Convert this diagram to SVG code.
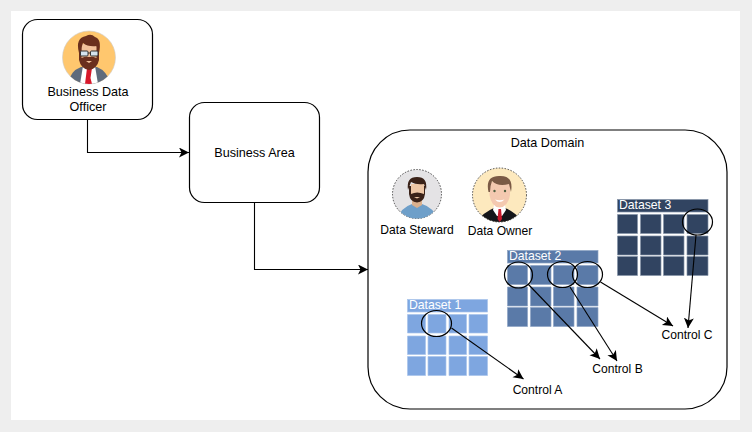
<svg xmlns="http://www.w3.org/2000/svg" width="752" height="432" viewBox="0 0 752 432">
<style>
text{font-family:"Liberation Sans",Arial,sans-serif;font-size:12.6px;fill:#000;text-anchor:middle}
text.s{font-size:12.1px}
.box{fill:#fff;stroke:#000;stroke-width:1.2}
.line{fill:none;stroke:#000;stroke-width:1.1;marker-end:url(#arrow)}
.sel{fill:none;stroke:#000;stroke-width:1.2}
.d1{fill:#7EA6E0;stroke:#A9C4EB;stroke-width:.7}
.d2{fill:#5A7AA8;stroke:#8EA4C4;stroke-width:.7}
.d3{fill:#314461;stroke:#8593A8;stroke-width:.7}
text.ht{fill:#fff;text-anchor:start;font-size:12.2px}
</style>
<defs>
<marker id="arrow" markerWidth="12" markerHeight="12" refX="10" refY="5" orient="auto" markerUnits="userSpaceOnUse"><path d="M0 0L10 5L0 10L2.500 5Z" fill="#000"/></marker>
<clipPath id="c1"><circle cx="89" cy="57.500" r="26.500"/></clipPath>
<clipPath id="c2"><circle cx="417" cy="194" r="24.500"/></clipPath>
<clipPath id="c3"><circle cx="499.500" cy="195" r="27"/></clipPath>
</defs>
<rect width="752" height="432" fill="#eeeeee"/>
<rect x="11" y="11" width="729" height="409" fill="#fff"/>
<g id="data-domain"><rect class="box" x="368" y="130" width="359" height="279" rx="42"/><text x="547.500" y="147">Data Domain</text></g>
<g id="business-data-officer">
<rect class="box" x="22.500" y="19.500" width="130" height="100" rx="15"/>
<circle cx="89" cy="57.500" r="26.500" fill="#FFC76E" stroke="#ccc" stroke-width=".6"/>
<g clip-path="url(#c1)">
<path d="M68 84Q70 71 81 67L97 67Q107 71 111 84Z" fill="#5F6B7C"/>
<path d="M80 84L83 66H95L98 84Z" fill="#fff"/>
<path d="M87 68H92L90.500 78L92 84H85Z" fill="#D7182A"/>
<path d="M79 46H99V60Q97 69 89 70Q81 69 79 60Z" fill="#6A2F1D"/>
<path d="M81.500 44H96.500V58Q92 56 89 57Q86 56 81.500 58Z" fill="#F3C29B"/>
<path d="M86 61H92L89 63Z" fill="#F3C29B"/>
<path d="M79 53Q75 38 86 36Q91 33 95 37Q102 39 99 53L96.500 46Q88 47 83 43Q81 47 81 53Z" fill="#6A2F1D"/>
<rect x="80.500" y="51" width="7.500" height="5" rx="1" fill="#D5E4EE" stroke="#333" stroke-width="1"/>
<rect x="90.500" y="51" width="7.500" height="5" rx="1" fill="#D5E4EE" stroke="#333" stroke-width="1"/>
<path d="M88 53H90.500" stroke="#333"/>
</g>
<text x="88" y="96">Business Data</text><text x="88" y="111">Officer</text>
</g>
<g id="business-area"><rect class="box" x="189.500" y="102.500" width="130" height="100" rx="15"/><text x="254.500" y="157">Business Area</text></g>
<g id="data-steward">
<circle cx="417" cy="194" r="24.500" fill="#E4E3E5" stroke="#222" stroke-width=".8" stroke-dasharray="1.500 1.500"/>
<g clip-path="url(#c2)">
<path d="M398 219Q400 208 412 204L417 206L422 204Q435 208 436 219Z" fill="#6E9FC9"/>
<path d="M412 196H422V205L417 208L412 205Z" fill="#D9B08E"/>
<path d="M409 186H425V194Q424 202 417 202.500Q410 202 409 194Z" fill="#3A2218"/>
<path d="M411 184H424V194Q417 191 411 194Z" fill="#EDC6A5"/>
<path d="M414 197H420L417 198.500Z" fill="#EDC6A5"/>
<path d="M408 190Q406 177 417 177Q428 177 426 190L424 184Q416 185 411 182Z" fill="#3A2218"/>
</g>
<text class="s" x="417" y="234">Data Steward</text>
</g>
<g id="data-owner">
<circle cx="499.500" cy="195" r="27" fill="#FDE9BE" stroke="#222" stroke-width=".8" stroke-dasharray="1.500 1.500"/>
<g clip-path="url(#c3)">
<path d="M476 222Q484 212 494 208H505Q515 212 523 222Z" fill="#15161A"/>
<path d="M494 205H505L506 210L502 216H497L493 210Z" fill="#fff"/>
<path d="M498.500 209H501L502 219L499.700 222L497.500 219Z" fill="#C8182B"/>
<path d="M489.500 182H510V195Q508 207 499.500 207.500Q491.500 207 489.500 195Z" fill="#F4C9B0"/>
<path d="M488.500 192Q485 176 499 176Q514 175 511 192L509 184Q498 187 492 181Q490 186 490 192Z" fill="#7B5A45"/>
<path d="M495 199.500Q499.500 201 504.500 199.500Q499.500 204.500 495 199.500Z" fill="#fff"/>
<circle cx="494.500" cy="191" r="1.200" fill="#4F5F3F"/><circle cx="505" cy="191" r="1.200" fill="#4F5F3F"/>
</g>
<text class="s" x="500" y="235">Data Owner</text>
</g>
<g id="dataset-1">
<rect class="d1" x="407.500" y="299.500" width="80" height="12.500"/>
<path class="d1" d="M407.500 314.500h18v18.500h-18zM428 314.500h18v18.500h-18zM449 314.500h17.500v18.500h-17.500zM469 314.500h18.500v18.500h-18.500zM407.500 336h18v18.500h-18zM428 336h18v18.500h-18zM449 336h17.500v18.500h-17.500zM469 336h18.500v18.500h-18.500zM407.500 356.500h18v19h-18zM428 356.500h18v19h-18zM449 356.500h17.500v19h-17.500zM469 356.500h18.500v19h-18.500z"/>
<text class="ht" x="409" y="309">Dataset 1</text>
<ellipse class="sel" cx="436.500" cy="323.500" rx="15" ry="13"/>
</g>
<g id="dataset-2">
<rect class="d2" x="507.500" y="250.500" width="90.500" height="12.500"/>
<path class="d2" d="M507.500 265.500h20v19h-20zM530.500 265.500h20.500v19h-20.500zM553.500 265.500h20.500v19h-20.500zM577 265.500h21v19h-21zM507.500 287h20v19h-20zM530.500 287h20.500v19h-20.500zM553.500 287h20.500v19h-20.500zM577 287h21v19h-21zM507.500 307.500h20v19h-20zM530.500 307.500h20.500v19h-20.500zM553.500 307.500h20.500v19h-20.500zM577 307.500h21v19h-21z"/>
<text class="ht" x="509" y="260">Dataset 2</text>
<ellipse class="sel" cx="518.500" cy="275" rx="14" ry="13"/>
<ellipse class="sel" cx="562.500" cy="274.500" rx="15" ry="13"/>
<ellipse class="sel" cx="587.500" cy="274.500" rx="15" ry="13"/>
</g>
<g id="dataset-3">
<rect class="d3" x="617.500" y="199.500" width="90.500" height="12.500"/>
<path class="d3" d="M617.500 214.500h20v19h-20zM640.500 214.500h20.500v19h-20.500zM663.500 214.500h20.500v19h-20.500zM687 214.500h21v19h-21zM617.500 236h20v19h-20zM640.500 236h20.500v19h-20.500zM663.500 236h20.500v19h-20.500zM687 236h21v19h-21zM617.500 256.500h20v19h-20zM640.500 256.500h20.500v19h-20.500zM663.500 256.500h20.500v19h-20.500zM687 256.500h21v19h-21z"/>
<text class="ht" x="619" y="209">Dataset 3</text>
<ellipse class="sel" cx="697.500" cy="222" rx="15" ry="13"/>
</g>
<g id="control-a"><text class="s" x="537.500" y="394">Control A</text></g>
<g id="control-b"><text class="s" x="617.500" y="373">Control B</text></g>
<g id="control-c"><text class="s" x="687" y="339">Control C</text></g>
<g id="connectors">
<path class="line" d="M87.500 119.500V152.500H189"/>
<path class="line" d="M254.500 202.500V269.500H368"/>
<path class="line" d="M451.500 328L523.500 379"/>
<path class="line" d="M528 284L600 359"/>
<path class="line" d="M570 287L617 361"/>
<path class="line" d="M600.500 282L673 326"/>
<path class="line" d="M696 235L688 328"/>
</g>
</svg>
